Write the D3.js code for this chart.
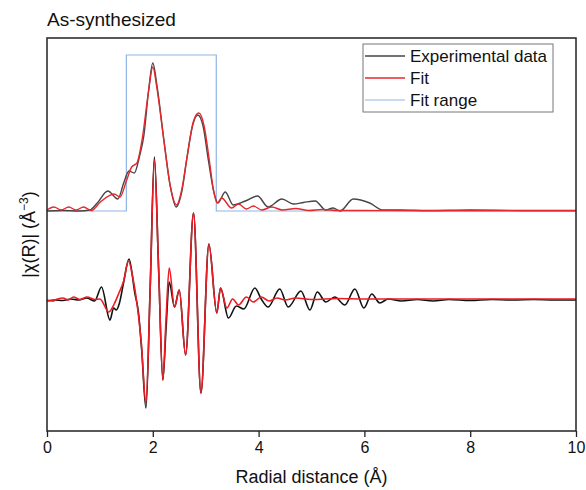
<!DOCTYPE html>
<html>
<head>
<meta charset="utf-8">
<script src="https://cdn.jsdelivr.net/npm/d3@7"></script>
<style>
  body { margin: 0; background: #fff; }
  text { font-family: "Liberation Sans", Arial, sans-serif; fill: #111; }
</style>
</head>
<body>
<div id="vis-container"></div>
<script>
// radial distance (A) and heights
let magR   = [0,0.3,0.6,0.81,0.95,1.15,1.34,1.45,1.55,1.65,1.75,1.83,1.92,2.0,2.08,2.21,2.33,2.44,2.55,2.64,2.75,2.85,2.95,3.05,3.15,3.23,3.37,3.52,3.75,3.98,4.18,4.44,4.66,4.85,5.07,5.27,5.41,5.54,5.79,6.1,6.35,6.7,7.2,8,9,10];
let magExp = [0,0.005,0,0.01,0.08,0.2,0.12,0.28,0.4,0.38,0.55,0.75,1.2,1.48,1.25,0.71,0.25,0.04,0.2,0.51,0.85,0.96,0.85,0.51,0.2,0.08,0.19,0.06,0.1,0.15,0.04,0.12,0.07,0.085,0.1,0.01,0.03,0,0.12,0.08,0.01,0.01,0.005,0.01,0.005,0.005];

let magFitR = [0,0.13,0.27,0.41,0.55,0.69,0.84,1.01,1.27,1.38,1.5,1.6,1.7,1.8,1.92,2.0,2.08,2.21,2.33,2.45,2.55,2.65,2.77,2.87,2.97,3.07,3.15,3.22,3.3,3.49,3.62,3.77,3.9,4.06,4.25,4.45,4.7,4.95,5.2,5.5,6,7,8,10];
let magFit  = [0.01,0.04,0.01,0.04,0.01,0.04,0.005,0.09,0.17,0.14,0.3,0.44,0.48,0.72,1.2,1.44,1.22,0.7,0.25,0.06,0.22,0.55,0.9,0.98,0.85,0.5,0.2,0.08,0.13,0.03,0.07,0.02,0.05,0.01,0.04,0.01,0.025,0.005,0.015,0.005,0.005,0.003,0.003,0.003];

let reR   = [0,0.15,0.3,0.45,0.6,0.75,0.9,1.03,1.19,1.26,1.31,1.37,1.45,1.55,1.66,1.73,1.79,1.87,1.95,2.03,2.11,2.19,2.25,2.31,2.41,2.5,2.62,2.77,2.91,3.06,3.21,3.28,3.43,3.58,3.72,3.93,4.05,4.18,4.4,4.56,4.8,4.97,5.11,5.27,5.44,5.63,5.82,5.99,6.14,6.29,6.45,6.7,7,7.3,7.6,8,8.4,8.8,9.2,9.6,10];
let reExp = [-0.02,-0.01,-0.015,0,-0.01,0.01,-0.02,0.12,-0.21,-0.09,-0.11,-0.04,0.17,0.4,0.06,-0.14,-0.51,-1.09,0.1,1.42,0.3,-0.81,-0.3,0.17,-0.08,0.09,-0.56,0.86,-0.94,0.55,-0.14,0.11,-0.19,-0.07,-0.1,0.11,0,-0.08,0.1,-0.08,0.08,-0.11,0.07,-0.03,0.02,-0.06,0.1,-0.09,0.05,-0.04,0,-0.02,-0.005,-0.02,-0.005,-0.015,-0.005,-0.01,-0.005,-0.01,-0.01];

let reFitR = [0,0.1,0.2,0.3,0.4,0.5,0.62,0.76,0.9,1.0,1.17,1.27,1.36,1.45,1.54,1.62,1.7,1.78,1.87,1.95,2.03,2.11,2.19,2.25,2.31,2.41,2.5,2.62,2.77,2.91,3.06,3.21,3.28,3.4,3.51,3.62,3.77,3.9,4.05,4.2,4.35,4.5,4.7,5.0,5.5,6,7,8,10];
let reFit  = [-0.01,-0.02,0,0.01,-0.01,0.02,-0.005,0.02,-0.005,0,-0.13,-0.05,0.06,0.18,0.38,0.22,-0.04,-0.42,-1.04,0.1,1.39,0.3,-0.81,-0.2,0.31,-0.08,0.09,-0.56,0.86,-0.94,0.55,-0.14,0.11,-0.09,0,-0.06,0.02,-0.03,0.02,-0.02,0.01,-0.01,0.01,-0.005,0.005,0,0,0,0];

let fitRange = [1.5, 3.2];
let fitRangeHeight = 1.56;
let xTicks = [0,2,4,6,8,10];
let legendItems = ["Experimental data","Fit","Fit range"];

//layout
let margin = {top:38, right:10, bottom:59, left:47};
let W = 586, H = 490;
let width = W - margin.left - margin.right;
let height = H - margin.top - margin.bottom;
let topOffset = 0.88;

let svg = d3.select("#vis-container")
  .append("svg")
  .attr("width", W)
  .attr("height", H);

let g = svg.append("g")
  .attr("transform", `translate(${margin.left}, ${margin.top})`);

//scales
let x = d3.scaleLinear().domain([0,10]).range([0,width]);
let y = d3.scaleLinear().domain([-1.32, 2.61]).range([height,0]);

let line = d3.line()
  .x(d=>x(d[0]))
  .y(d=>y(d[1]))
  .curve(d3.curveMonotoneX);

//fit range window
let frPts = [[0,topOffset],[fitRange[0],topOffset],[fitRange[0],topOffset+fitRangeHeight],
             [fitRange[1],topOffset+fitRangeHeight],[fitRange[1],topOffset],[10,topOffset]];
g.append("path")
  .attr("d", d3.line().x(d=>x(d[0])).y(d=>y(d[1]))(frPts))
  .attr("fill","none")
  .attr("stroke","#8fb5e4")
  .attr("stroke-width",1.2);

function drawSeries(rs, vs, off, color, w){
  g.append("path")
    .datum(rs.map((r,i)=>[r, vs[i]+off]))
    .attr("d", line)
    .attr("fill","none")
    .attr("stroke",color)
    .attr("stroke-width",w)
    .attr("stroke-linejoin","round");
}

drawSeries(magR, magExp, topOffset, "#454545", 1.4);
drawSeries(magFitR, magFit, topOffset, "#e4292d", 1.4);
drawSeries(reR, reExp, 0, "#111", 1.6);
drawSeries(reFitR, reFit, 0, "#ec1c24", 1.6);

//frame
g.append("rect")
  .attr("width", width)
  .attr("height", height)
  .attr("fill","none")
  .attr("stroke","#222")
  .attr("stroke-width",1.5);

//x axis
let xAxisGroup = g.append("g")
  .attr("transform", `translate(0,${height})`);
xAxisGroup.call(d3.axisBottom(x).tickValues(d3.range(0,11,1)).tickSize(4).tickFormat(""));
xAxisGroup.call(d3.axisBottom(x).tickValues(xTicks).tickSize(6).tickPadding(5));
xAxisGroup.selectAll(".domain").remove();
xAxisGroup.selectAll("line").attr("stroke","#222").attr("stroke-width",1.3);
xAxisGroup.selectAll("text")
  .attr("font-size","16px")
  .attr("font-family","Liberation Sans, Arial, sans-serif")
  .attr("fill","#111");

//labels
g.append("text")
  .attr("x", width/2)
  .attr("y", height+52)
  .attr("font-size","18px")
  .attr("text-anchor","middle")
  .text("Radial distance (Å)");

g.append("text")
  .attr("transform","rotate(-90)")
  .attr("x", -height/2)
  .attr("y", -12)
  .attr("font-size","18px")
  .attr("text-anchor","middle")
  .html("|χ(R)| (Å<tspan baseline-shift='super' font-size='12px'>−3</tspan>)");

svg.append("text")
  .attr("x", 47)
  .attr("y", 26)
  .attr("font-size","19px")
  .text("As-synthesized");

//legend
let legend = svg.append("g").attr("transform","translate(363,44)");
legend.append("rect")
  .attr("width",190).attr("height",68)
  .attr("fill","#fff").attr("stroke","#777").attr("stroke-width",1);
let legColors = ["#454545","#e4292d","#8fb5e4"];
legendItems.forEach((t,i)=>{
  let yy = 12 + i*22;
  legend.append("line")
    .attr("x1",2).attr("x2",42).attr("y1",yy).attr("y2",yy)
    .attr("stroke",legColors[i]).attr("stroke-width", i==2 ? 1.2 : 1.5);
  legend.append("text")
    .attr("x",47).attr("y",yy+6)
    .attr("font-size","17px")
    .text(t);
});
</script>
</body>
</html>
